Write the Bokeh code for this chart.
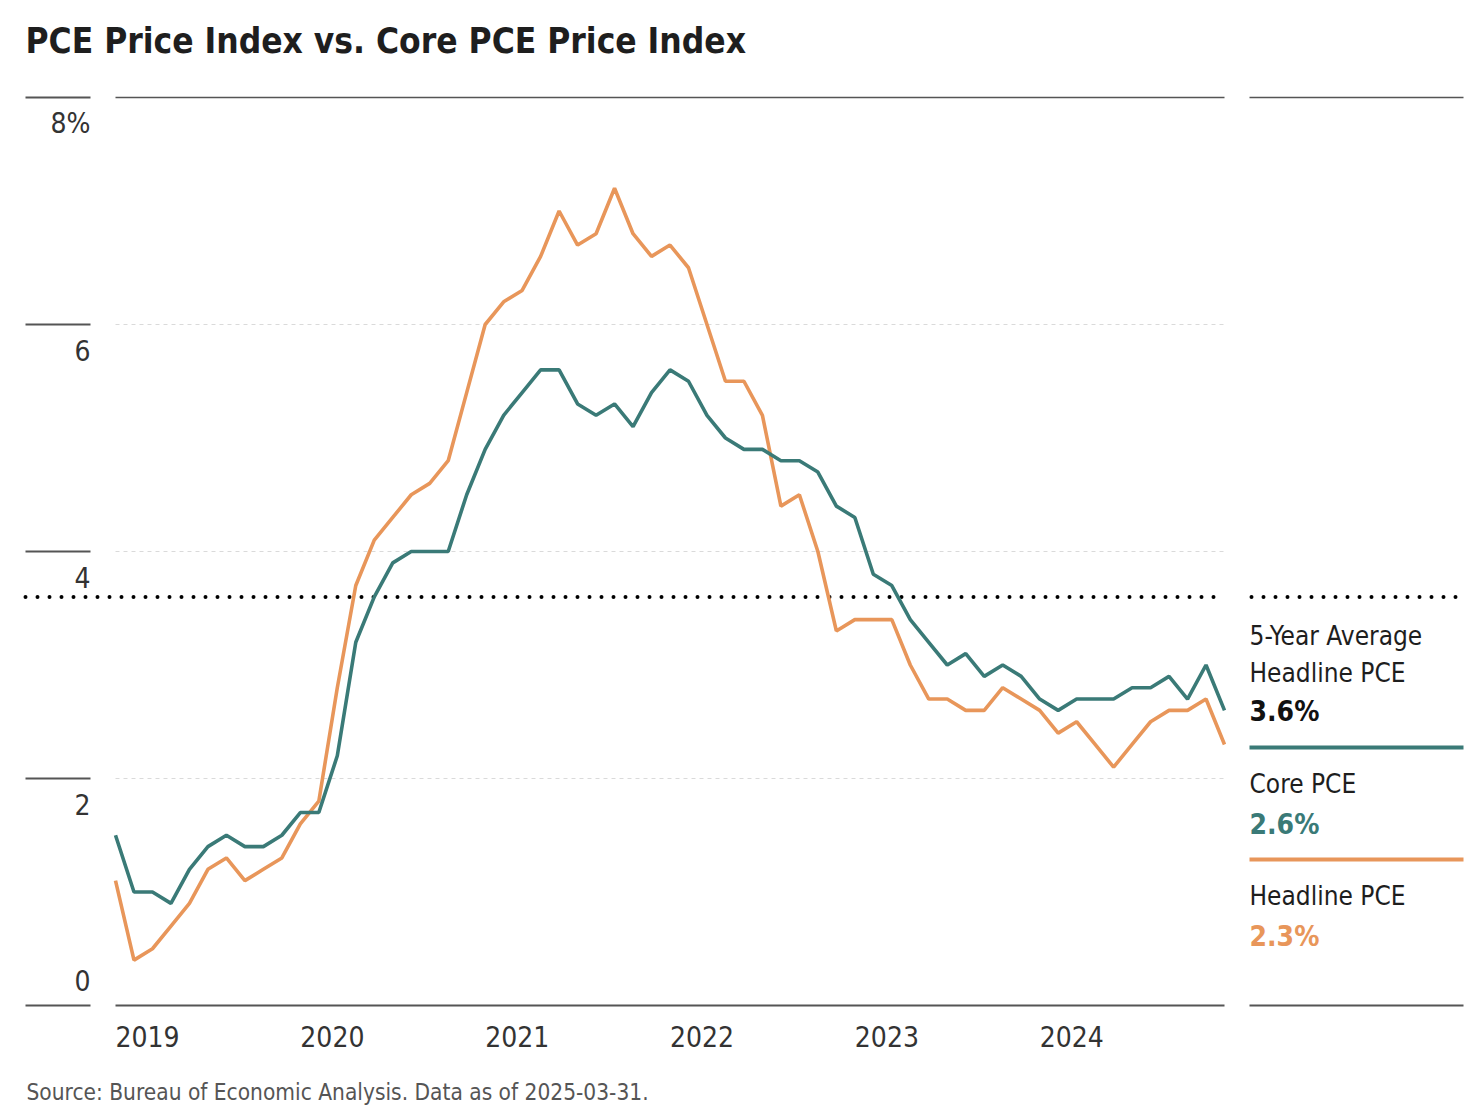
from bokeh.plotting import figure
from bokeh.models import Range1d, ColumnDataSource
from bokeh.core.properties import value
from bokeh.embed import file_html
from bokeh.resources import INLINE

# ---------------- data ----------------
core_pce = [1.5, 1.0, 1.0, 0.9, 1.2, 1.4, 1.5, 1.4, 1.4, 1.5, 1.7, 1.7,
            2.2, 3.2, 3.6, 3.9, 4.0, 4.0, 4.0,
            4.5, 4.9, 5.2, 5.4, 5.6, 5.6,
            5.3, 5.2, 5.3, 5.1, 5.4, 5.6, 5.5, 5.2, 5.0, 4.9,
            4.9, 4.8, 4.8, 4.7, 4.4, 4.3,
            3.8, 3.7, 3.4, 3.2, 3.0, 3.1, 2.9, 3.0, 2.9, 2.7,
            2.6, 2.7, 2.7, 2.7, 2.8, 2.8, 2.9, 2.7, 3.0, 2.6]
headline_pce = [1.1, 0.4, 0.5, 0.7, 0.9, 1.2, 1.3, 1.1, 1.2, 1.3, 1.6, 1.8,
                2.8, 3.7, 4.1, 4.3, 4.5, 4.6, 4.8,
                5.4, 6.0, 6.2, 6.3, 6.6, 7.0,
                6.7, 6.8, 7.2, 6.8, 6.6, 6.7, 6.5, 6.0, 5.5, 5.5,
                5.2, 4.4, 4.5, 4.0, 3.3, 3.4,
                3.4, 3.4, 3.0, 2.7, 2.7, 2.6, 2.6, 2.8, 2.7, 2.6,
                2.4, 2.5, 2.3, 2.1, 2.3, 2.5, 2.6, 2.6, 2.7, 2.3]
five_year_avg = 3.6
year_labels = ["2019", "2020", "2021", "2022", "2023", "2024"]
year_index = [0, 10, 20, 30, 40, 50]
y_ticks = [0, 2, 4, 6, 8]
y_tick_labels = ["0", "2", "4", "6", "8%"]

# ---------------- style ----------------
TEAL = "#3a7a77"
ORANGE = "#e8965a"
DARK = "#1e1e1e"
GRAY = "#555555"
FONT = value("DejaVu Sans Condensed")
BASE_SHIFT = 0.38  # em, correction so that y is the alphabetic baseline

# ---------------- geometry (page pixels) ----------------
W, H = 1482, 1114
PLOT_L, PLOT_R = 115, 1224
Y0_PX, YTOP_PX = 1005, 97
n = len(core_pce)
dx = (PLOT_R - PLOT_L) / (n - 1)
dy = (Y0_PX - YTOP_PX) / max(y_ticks)


def X(px):
    return (px - PLOT_L) / dx


def Y(py):
    return (Y0_PX - py) / dy


def YB(py, size):
    """data y for a text whose baseline should sit at page pixel py"""
    return Y(py - BASE_SHIFT * size)


p = figure(width=W, height=H,
           x_range=Range1d(X(0), X(W)),
           y_range=Range1d(Y(H), Y(0)),
           x_axis_location=None, y_axis_location=None,
           output_backend="svg", toolbar_location=None, min_border=0)
p.grid.visible = False
p.outline_line_color = None
p.background_fill_color = "white"
p.border_fill_color = "white"

xs = list(range(n))

# light dashed gridlines at inner ticks
inner = [t for t in y_ticks if 0 < t < max(y_ticks)]
p.segment(x0=[X(PLOT_L)] * len(inner), x1=[X(PLOT_R)] * len(inner),
          y0=inner, y1=inner, line_color="#dadada", line_width=1, line_dash="4 4")
# top and bottom rules of plot
p.segment(x0=[X(PLOT_L)], x1=[X(PLOT_R)], y0=[max(y_ticks)], y1=[max(y_ticks)],
          line_color=GRAY, line_width=1.3)
p.segment(x0=[X(PLOT_L)], x1=[X(PLOT_R)], y0=[0], y1=[0],
          line_color=GRAY, line_width=2)
# left short tick rules
p.segment(x0=[X(25)] * len(y_ticks), x1=[X(90)] * len(y_ticks),
          y0=y_ticks, y1=y_ticks, line_color=GRAY, line_width=2)

# y tick labels (below rule, except 0 above)
AX_SIZE = 28
label_py = [(Y0_PX - t * dy) + (-14 if t == 0 else 37) for t in y_ticks]
p.text(x=[X(90)] * len(y_ticks), y=[YB(v, AX_SIZE) for v in label_py], text=y_tick_labels,
       text_font=FONT, text_font_size=f"{AX_SIZE}px", text_color="#333333",
       text_align="right", text_baseline="alphabetic")

# x year labels
p.text(x=year_index, y=[YB(1047, AX_SIZE)] * len(year_index), text=year_labels,
       text_font=FONT, text_font_size=f"{AX_SIZE}px", text_color="#333333",
       text_align="left", text_baseline="alphabetic")

# 5-year average dotted line
p.segment(x0=[X(25)], x1=[X(PLOT_R)], y0=[five_year_avg], y1=[five_year_avg],
          line_color="black", line_width=4, line_dash="0 12", line_cap="round")

# data lines
src = ColumnDataSource(dict(x=xs, core=core_pce, head=headline_pce))
p.line("x", "head", source=src, line_color=ORANGE, line_width=3.6)
p.line("x", "core", source=src, line_color=TEAL, line_width=3.6)

# ---------------- legend panel on right ----------------
LX0, LX1 = 1249, 1463
p.segment(x0=[X(LX0)], x1=[X(LX1)], y0=[max(y_ticks)], y1=[max(y_ticks)],
          line_color=GRAY, line_width=1.3)
p.segment(x0=[X(LX0 + 2)], x1=[X(LX1)], y0=[five_year_avg], y1=[five_year_avg],
          line_color="black", line_width=4, line_dash="0 12", line_cap="round")
p.segment(x0=[X(LX0)], x1=[X(LX1)], y0=[Y(747)], y1=[Y(747)],
          line_color=TEAL, line_width=3.8)
p.segment(x0=[X(LX0)], x1=[X(LX1)], y0=[Y(859)], y1=[Y(859)],
          line_color=ORANGE, line_width=3.8)
p.segment(x0=[X(LX0)], x1=[X(LX1)], y0=[0], y1=[0],
          line_color=GRAY, line_width=2)

LEG_SIZE = 26
legend_plain = ["5-Year Average", "Headline PCE", "Core PCE", "Headline PCE"]
legend_plain_py = [645, 682, 793, 905]
p.text(x=[X(LX0)] * 4, y=[YB(v, LEG_SIZE) for v in legend_plain_py], text=legend_plain,
       text_font=FONT, text_font_size=f"{LEG_SIZE}px", text_color=DARK,
       text_align="left", text_baseline="alphabetic")

VAL_SIZE = 28
legend_vals = [f"{five_year_avg:.1f}%", f"{core_pce[-1]:.1f}%", f"{headline_pce[-1]:.1f}%"]
legend_cols = ["#111111", TEAL, ORANGE]
legend_vals_py = [722, 835, 947]
p.text(x=[X(LX0)] * 3, y=[YB(v, VAL_SIZE) for v in legend_vals_py], text=legend_vals,
       text_font=FONT, text_font_size=f"{VAL_SIZE}px", text_font_style="bold",
       text_color=legend_cols, text_align="left", text_baseline="alphabetic")

# ---------------- title and source ----------------
TITLE_SIZE = 35
p.text(x=[X(25)], y=[YB(54, TITLE_SIZE)], text=["PCE Price Index vs. Core PCE Price Index"],
       text_font=FONT, text_font_size=f"{TITLE_SIZE}px", text_font_style="bold",
       text_color=DARK, text_align="left", text_baseline="alphabetic")
SRC_SIZE = 22.5
p.text(x=[X(26)], y=[YB(1100, SRC_SIZE)],
       text=["Source: Bureau of Economic Analysis. Data as of 2025-03-31."],
       text_font=FONT, text_font_size=f"{SRC_SIZE}px", text_color=GRAY,
       text_align="left", text_baseline="alphabetic")

open("out.html", "w").write(file_html(p, INLINE))
